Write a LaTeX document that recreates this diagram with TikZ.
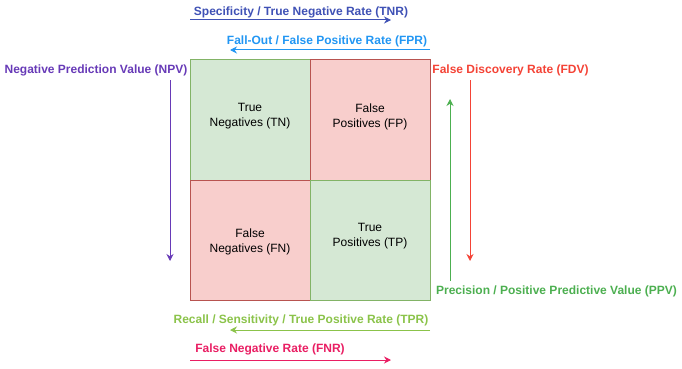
\documentclass[tikz,border=0pt]{standalone}
\usepackage{fontspec}
\setmainfont{Liberation Sans}
\usetikzlibrary{arrows.meta}
\definecolor{goodfill}{HTML}{D5E8D4}
\definecolor{goodline}{HTML}{82B366}
\definecolor{badfill}{HTML}{F8CECC}
\definecolor{badline}{HTML}{B85450}
\definecolor{tnrcol}{HTML}{3F51B5}
\definecolor{fprcol}{HTML}{2196F3}
\definecolor{npvcol}{HTML}{673AB7}
\definecolor{fdvcol}{HTML}{F44336}
\definecolor{ppvcol}{HTML}{4CAF50}
\definecolor{tprcol}{HTML}{8BC34A}
\definecolor{fnrcol}{HTML}{E91E63}
\begin{document}
\begin{tikzpicture}[x=1pt,y=-1pt,
    cell/.style={draw,line width=1pt,minimum size=120pt,inner sep=0pt},
    good/.style={cell,fill=goodfill,draw=goodline},
    bad/.style={cell,fill=badfill,draw=badline},
    celltext/.style={align=center,inner sep=0pt,font=\fontsize{12}{15}\selectfont},
    rate/.style={font=\bfseries\fontsize{12}{14}\selectfont,inner sep=0pt},
    ratearrow/.style={-{Stealth[length=7pt,width=7pt]},line width=1pt},
  ]
  \useasboundingbox (0,0) rectangle (682,369);
  % confusion matrix
  \node[good] (TN) at (250,120) {};
  \node[bad]  (FP) at (370,120) {};
  \node[bad]  (FN) at (250,240) {};
  \node[good] (TP) at (370,240) {};
  \node[celltext] (TNtext) at ([yshift=3.5pt]TN.center) {True\\Negatives (TN)};
  \node[celltext] (FPtext) at ([yshift=3.5pt]FP.center) {False\\Positives (FP)};
  \node[celltext] (FNtext) at ([yshift=-1.5pt]FN.center) {False\\Negatives (FN)};
  \node[celltext] (TPtext) at ([yshift=3.5pt]TP.center) {True\\Positives (TP)};
  % rate labels
  \node[rate,text=tnrcol] (tnr) at (301,12.5) {Specificity / True Negative Rate (TNR)};
  \node[rate,text=fprcol] (fpr) at (327,41.5) {Fall-Out / False Positive Rate (FPR)};
  \node[rate,text=npvcol] (npv) at (96,70.5) {Negative Prediction Value (NPV)};
  \node[rate,text=fdvcol] (fdv) at (510.5,70.5) {False Discovery Rate (FDV)};
  \node[rate,text=ppvcol] (ppv) at (556.5,291) {Precision / Positive Predictive Value (PPV)};
  \node[rate,text=tprcol] (tpr) at (301,320) {Recall / Sensitivity / True Positive Rate (TPR)};
  \node[rate,text=fnrcol] (fnr) at (270,349.5) {False Negative Rate (FNR)};
  % arrow ends
  \coordinate (tnrA) at (190,20);  \coordinate (tnrB) at (391,20);
  \coordinate (fprA) at (430,50);  \coordinate (fprB) at (230,50);
  \coordinate (npvA) at (170,80);  \coordinate (npvB) at (170,261);
  \coordinate (fdvA) at (470,80);  \coordinate (fdvB) at (470,261);
  \coordinate (ppvA) at (450,281); \coordinate (ppvB) at (450,99);
  \coordinate (tprA) at (430,330); \coordinate (tprB) at (230,330);
  \coordinate (fnrA) at (190,360); \coordinate (fnrB) at (391,360);
  \draw[ratearrow,tnrcol] (tnrA) -- (tnrB);
  \draw[ratearrow,fprcol] (fprA) -- (fprB);
  \draw[ratearrow,npvcol] (npvA) -- (npvB);
  \draw[ratearrow,fdvcol] (fdvA) -- (fdvB);
  \draw[ratearrow,ppvcol] (ppvA) -- (ppvB);
  \draw[ratearrow,tprcol] (tprA) -- (tprB);
  \draw[ratearrow,fnrcol] (fnrA) -- (fnrB);
\end{tikzpicture}
\end{document}
